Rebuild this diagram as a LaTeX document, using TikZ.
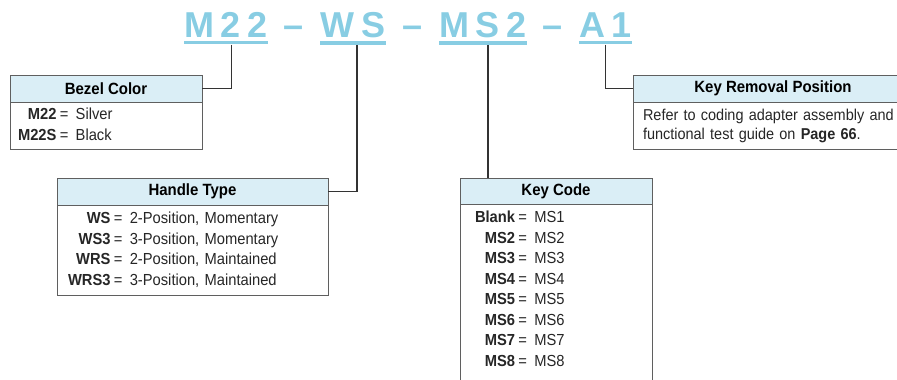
\documentclass[tikz,border=0pt]{standalone}
\usepackage{fontspec,array}
\setmainfont{Liberation Sans}[FakeStretch=0.92]
\newfontfamily\codefont{Liberation Sans}
\usetikzlibrary{calc}
\definecolor{code}{HTML}{88CDE3}
\definecolor{headfill}{HTML}{DAEEF6}
\definecolor{boxline}{HTML}{5F5F5F}
\definecolor{linkgray}{HTML}{333333}
\definecolor{textgray}{HTML}{262626}
\newcommand\codegap{\hspace{5pt}}
\newcolumntype{E}{@{}>{\bfseries}r@{\hspace{2.5pt}=\hspace{5.5pt}}l@{}}
\tikzset{head/.style={draw=boxline,fill=headfill,inner sep=0pt,minimum height=20.25pt,font=\bfseries\fontsize{12.2}{13}\selectfont},body/.style={draw=boxline,anchor=north,align=left,inner ysep=0pt,text=textgray,font=\fontsize{12}{15.4}\selectfont},seg/.style={text=code,inner sep=0pt,anchor=base,font=\codefont\bfseries\fontsize{27}{30}\selectfont},uline/.style={code,line width=2.6pt},link/.style={draw=linkgray,line width=1pt}}

\begin{document}
\begin{tikzpicture}[x=0.75pt,y=-0.75pt]
\clip (0,0) rectangle (897,379);
% part number
\node[seg] (m22) at (226,37) {M\codegap 2\codegap 2};
\node[seg] (dashA) at (294,37) {\textendash};
\node[seg] (ws) at (353,37) {W\codegap S};
\node[seg] (dashB) at (413,37) {\textendash};
\node[seg] (ms2) at (483,37) {M\codegap S\codegap 2};
\node[seg] (dashC) at (553,37) {\textendash};
\node[seg] (a1) at (605.5,37) {A\codegap 1};
\foreach \s in {m22,ws,ms2,a1} \draw[uline] ([yshift=-4.1pt]\s.south west) -- ([yshift=-4.1pt]\s.south east);
% option tables
\node[head,minimum width=144pt] (bezelHead) at (106,88.5) {Bezel Color};
\node[body,text width=132pt,inner xsep=6pt,minimum height=35.25pt] (bezelBody) at (bezelHead.south) {\begin{tabular}{E}M22 & Silver\\M22S & Black\end{tabular}};
\node[head,minimum width=203.25pt] (handleHead) at (192.5,191.5) {Handle Type};
\node[body,text width=186.75pt,inner xsep=8.25pt,minimum height=67.5pt] (handleBody) at (handleHead.south) {\begin{tabular}{E}WS & 2-Position, Momentary\\WS3 & 3-Position, Momentary\\WRS & 2-Position, Maintained\\WRS3 & 3-Position, Maintained\end{tabular}};
\node[head,minimum width=144pt,minimum height=19.5pt] (keyHead) at (556,191) {Key Code};
\node[body,text width=121.5pt,inner xsep=11.25pt,inner ysep=2.7pt,text depth=160pt] (keyBody) at (keyHead.south) {\begin{tabular}[t]{E}Blank & MS1\\MS2 & MS2\\MS3 & MS3\\MS4 & MS4\\MS5 & MS5\\MS6 & MS6\\MS7 & MS7\\MS8 & MS8\end{tabular}};
\node[head,minimum width=209pt] (removalHead) at (773,88.5) {Key Removal Position};
\node[body,text width=195pt,inner xsep=7pt,minimum height=35.25pt,font=\fontsize{11.8}{14}\selectfont] (removalBody) at (removalHead.south) {Refer to coding adapter assembly and\\functional test guide on \textbf{Page 66}.};
% connectors
\coordinate (m22top) at ([xshift=4.3pt,yshift=-5.5pt]m22.south);
\coordinate (wstop) at ([xshift=3pt,yshift=-5.5pt]ws.south);
\coordinate (ms2top) at ([xshift=3.75pt,yshift=-5.5pt]ms2.south);
\coordinate (a1top) at ([yshift=-5.5pt]a1.south);
\draw[link] (m22top) |- (bezelHead.east);\draw[link] (wstop) |- (handleHead.east);\draw[link] (ms2top) -- (ms2top |- keyHead.north);\draw[link] (a1top) |- (removalHead.west);
\end{tikzpicture}
\end{document}
